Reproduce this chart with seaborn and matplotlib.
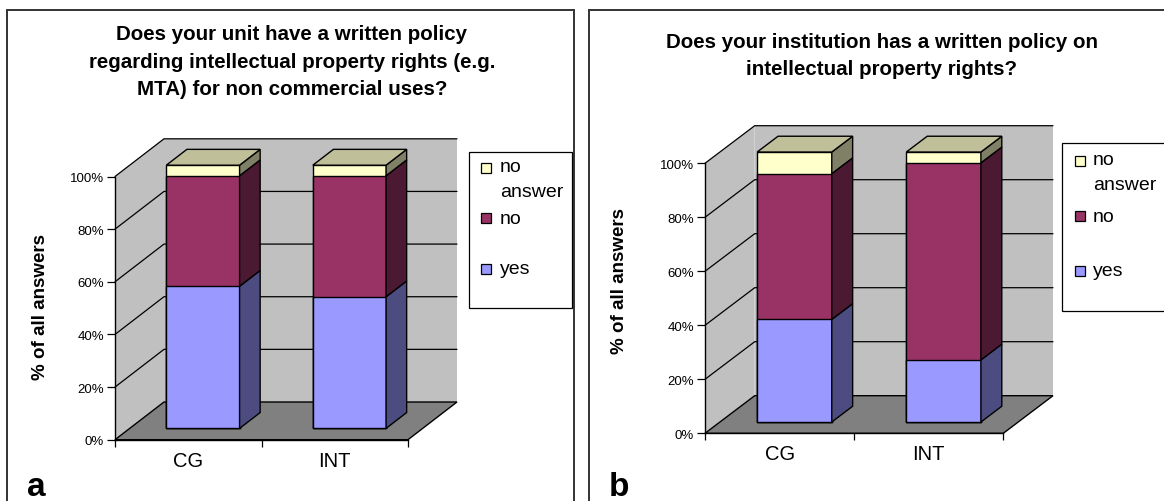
import matplotlib
matplotlib.use("Agg")
import matplotlib.pyplot as plt
from matplotlib.patches import Polygon, Rectangle
from matplotlib.transforms import Affine2D
import pandas as pd
import seaborn as sns

# ---- data -------------------------------------------------------------
categories = ["CG", "INT"]
answers = ["yes", "no", "no answer"]

unit_yes = [54, 50]
unit_no = [42, 46]
unit_na = [4, 4]

inst_yes = [38, 23]
inst_no = [54, 73]
inst_na = [8, 4]

y_ticks = [0, 20, 40, 60, 80, 100]

title_a = ("Does your unit have a written policy\n"
           "regarding intellectual property rights (e.g.\n"
           "MTA) for non commercial uses?")
title_b = ("Does your institution has a written policy on\n"
           "intellectual property rights?")
y_label = "% of all answers"
legend_labels = {"no answer": "no\nanswer", "no": "no", "yes": "yes"}

# ---- style ------------------------------------------------------------
FRONT = {"yes": "#9999FF", "no": "#993366", "no answer": "#FFFFCC"}
SIDE = {"yes": "#4C4C80", "no": "#4C1933", "no answer": "#808066"}
TOP = "#BFBF99"
WALL = "#C0C0C0"
FLOOR = "#808080"

W, H = 1164, 502
sns.set_style("white")
plt.rcParams["font.family"] = ["Liberation Sans", "DejaVu Sans"]
plt.rcParams["text.color"] = "black"
plt.rcParams["xtick.color"] = "black"
plt.rcParams["ytick.color"] = "black"
plt.rcParams["axes.labelcolor"] = "black"

fig = plt.figure(figsize=(W / 100, H / 100), dpi=100)


def fig_box(l, t, r, b):
    return [l / W, 1 - b / H, (r - l) / W, (b - t) / H]


def fx(px):
    return px / W


def fy(py):
    return 1 - py / H


def draw_panel(rect, yes, no, na, depth_px, z0=0.30, dz=0.42):
    l, t, r, b = rect
    ax = fig.add_axes(fig_box(l, t, r, b))
    ax.set_facecolor("none")
    ncat = len(categories)
    dx = depth_px[0] / ((r - l) / ncat)
    dy = depth_px[1] / ((b - t) / 100)
    x0, x1 = -0.5, ncat - 0.5

    def P(x, y, z):
        return (x + z * dx, y + z * dy)

    # back wall, side wall and floor of the 3-D box
    walls = [
        ([P(x0, 0, 1), P(x1, 0, 1), P(x1, 100, 1), P(x0, 100, 1)], WALL, "none"),
        ([P(x0, 0, 0), P(x0, 100, 0), P(x0, 100, 1), P(x0, 0, 1)], WALL, "none"),
        ([P(x0, 0, 0), P(x1, 0, 0), P(x1, 0, 1), P(x0, 0, 1)], FLOOR, "black"),
    ]
    for pts, fc, ec in walls:
        ax.add_patch(Polygon(pts, closed=True, fc=fc, ec=ec, lw=1,
                             clip_on=False, zorder=0.5))
    for v in y_ticks[1:]:
        xs, ys = zip(P(x0, v, 0), P(x0, v, 1), P(x1, v, 1))
        ax.plot(xs, ys, color="black", lw=0.9, clip_on=False, zorder=1)

    # stacked bars: front faces through seaborn, drawn tallest first
    df = pd.DataFrame({"category": categories, "yes": yes, "no": no,
                       "no answer": na})
    cum = df[answers].cumsum(axis=1)
    cum["category"] = df["category"]
    shift = Affine2D().translate(z0 * dx, z0 * dy) + ax.transData
    for ans in reversed(answers):
        n_before = len(ax.patches)
        sns.barplot(data=cum, x="category", y=ans, color=FRONT[ans],
                    saturation=1, width=0.5, edgecolor="black", linewidth=1,
                    errorbar=None, ax=ax, zorder=4)
        for p in ax.patches[n_before:]:
            p.set_transform(shift)
            p.set_clip_on(False)

    # right side faces and top faces
    for i in range(ncat):
        xl, xr = i - 0.25, i + 0.25
        lo = 0
        for ans in answers:
            hi = cum.loc[i, ans]
            side = [P(xr, lo, z0), P(xr, lo, z0 + dz),
                    P(xr, hi, z0 + dz), P(xr, hi, z0)]
            ax.add_patch(Polygon(side, closed=True, fc=SIDE[ans], ec="black",
                                 lw=1, clip_on=False, zorder=4))
            lo = hi
        top = [P(xl, lo, z0), P(xr, lo, z0), P(xr, lo, z0 + dz),
               P(xl, lo, z0 + dz)]
        ax.add_patch(Polygon(top, closed=True, fc=TOP, ec="black", lw=1,
                             clip_on=False, zorder=4))

    # axes
    ax.set_xlim(x0, x1)
    ax.set_ylim(0, 100)
    ax.set_yticks(y_ticks)
    ax.set_yticklabels([f"{v}%" for v in y_ticks], fontsize=9.5)
    ax.set_xticks(range(ncat))
    ax.set_xticklabels(categories, fontsize=14.5)
    ax.set_xticks([x0 + k for k in range(ncat + 1)], minor=True)
    ax.tick_params(axis="y", left=True, length=6, width=0.9, color="black",
                   direction="out", pad=2)
    ax.tick_params(axis="x", which="major", bottom=True, length=0, pad=8)
    ax.tick_params(axis="x", which="minor", bottom=True, length=5, width=0.9,
                   color="black", direction="out")
    ax.set_xlabel("")
    ax.set_ylabel("")
    for side in ("top", "right"):
        ax.spines[side].set_visible(False)
    for side in ("left", "bottom"):
        ax.spines[side].set_color("black")
        ax.spines[side].set_linewidth(1)
        ax.spines[side].set_zorder(2)
    return ax


def draw_legend(box, sq_x, txt_x, rows):
    l, t, r, b = box
    fig.add_artist(Rectangle((fx(l), fy(b)), fx(r) - fx(l), fy(t) - fy(b),
                             transform=fig.transFigure, fill=True, fc="white",
                             ec="black", lw=0.9))
    for ans, yc in rows:
        fig.add_artist(Rectangle((fx(sq_x), fy(yc + 5)), fx(10), 10 / H,
                                 transform=fig.transFigure, fc=FRONT[ans],
                                 ec="black", lw=0.9))
        label = legend_labels[ans]
        if "\n" in label:
            fig.text(fx(txt_x), fy(yc - 10), label, fontsize=14, ha="left",
                     va="top", linespacing=1.6)
        else:
            fig.text(fx(txt_x), fy(yc), label, fontsize=14, ha="left",
                     va="center")


# panel frames
for (l, rgt) in [(7, 574), (589, 1190)]:
    fig.add_artist(Rectangle((fx(l), fy(525)), fx(rgt) - fx(l), fy(11) - fy(525),
                             transform=fig.transFigure, fill=False,
                             ec="#333333", lw=1.4))

# panel a
draw_panel((115, 177.5, 408, 440.7), unit_yes, unit_no, unit_na, (49, 37.7))
fig.text(fx(292), fy(62), title_a, fontsize=14.8, fontweight="bold",
         ha="center", va="center", linespacing=1.55)
fig.text(fx(41), fy(307), y_label, fontsize=13.5, fontweight="bold",
         rotation=90, ha="center", va="center")
draw_legend((469, 153, 572, 309), 481, 500,
            [("no answer", 169), ("no", 219), ("yes", 270)])
fig.text(fx(27), fy(496), "a", fontsize=24, fontweight="bold",
         ha="left", va="baseline")

# panel b
draw_panel((705, 164.3, 1003.3, 434.3), inst_yes, inst_no, inst_na, (49.7, 37.6))
fig.text(fx(882), fy(56), title_b, fontsize=14.8, fontweight="bold",
         ha="center", va="center", linespacing=1.55)
fig.text(fx(620), fy(281), y_label, fontsize=13.5, fontweight="bold",
         rotation=90, ha="center", va="center")
draw_legend((1062, 144, 1200, 312), 1075, 1093,
            [("no answer", 162), ("no", 217), ("yes", 272)])
fig.text(fx(609), fy(496), "b", fontsize=24, fontweight="bold",
         ha="left", va="baseline")

fig.savefig("out.png", dpi=100, facecolor="white")
